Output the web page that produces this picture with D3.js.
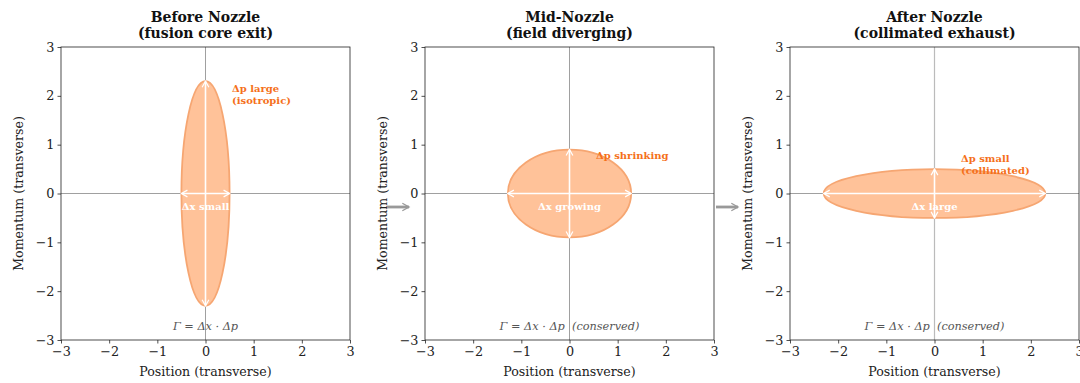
<!DOCTYPE html>
<html>
<head>
<meta charset="utf-8">
<script src="https://cdn.jsdelivr.net/npm/d3@7"></script>
<style>
  body { margin: 0; background: #fff; }
  svg { display: block; font-family: "DejaVu Serif", serif; }
  text { white-space: pre; }
</style>
</head>
<body>
<script>
// panel data
const titles = [["Before Nozzle", "(fusion core exit)"], ["Mid-Nozzle", "(field diverging)"], ["After Nozzle", "(collimated exhaust)"]];
const deltaX = [0.5, 1.28, 2.3];
const deltaP = [2.3, 0.9, 0.5];
const pLabels = [["Δp large", "(isotropic)"], ["Δp shrinking"], ["Δp small", "(collimated)"]];
const pLabelPos = [[0.55, 2.08], [0.55, 0.71], [0.55, 0.64]];
const xLabels = ["Δx small", "Δx growing", "Δx large"];
const gammaText = ["Γ = Δx · Δp", "Γ = Δx · Δp  (conserved)", "Γ = Δx · Δp  (conserved)"];
const ticks = [-3, -2, -1, 0, 1, 2, 3];

const W = 1080, H = 383;
const panelLeft = [61, 425, 790];
const pw = 289, panelTop = 47, ph = 293;

const svg = d3.select("body").append("svg").attr("width", W).attr("height", H);

const defs = svg.append("defs");
function marker(id, color, size) {
  defs.append("marker")
    .attr("id", id)
    .attr("viewBox", "-10 -6 12 12")
    .attr("refX", 0).attr("refY", 0)
    .attr("markerWidth", size).attr("markerHeight", size)
    .attr("markerUnits", "userSpaceOnUse")
    .attr("orient", "auto-start-reverse")
    .append("path")
    .attr("d", "M-8,-4.5 L0,0 L-8,4.5")
    .attr("fill", "none")
    .attr("stroke", color)
    .attr("stroke-width", 1.6);
}
marker("wh", "#fff", 9);
marker("gr", "#999", 10);

const fill = "#ffc299", edge = "#f6a672", orange = "#f5701a";

titles.forEach((t, i) => {
  const x = d3.scaleLinear().domain([-3, 3]).range([0, pw]);
  const y = d3.scaleLinear().domain([-3, 3]).range([ph, 0]);
  const g = svg.append("g").attr("transform", `translate(${panelLeft[i]},${panelTop})`);

  // zero lines
  g.append("line").attr("x1", 0).attr("x2", pw).attr("y1", y(0)).attr("y2", y(0))
    .attr("stroke", "#888").attr("stroke-width", 0.8);
  g.append("line").attr("x1", x(0)).attr("x2", x(0)).attr("y1", 0).attr("y2", ph)
    .attr("stroke", i == 2 ? "#bbb" : "#888").attr("stroke-width", i == 2 ? 1.2 : 0.8);

  // phase-space ellipse
  g.append("ellipse")
    .attr("cx", x(0)).attr("cy", y(0))
    .attr("rx", x(deltaX[i]) - x(0))
    .attr("ry", y(0) - y(deltaP[i]))
    .attr("fill", fill)
    .attr("stroke", edge)
    .attr("stroke-width", 1.8);

  // spread arrows
  g.append("line")
    .attr("x1", x(-deltaX[i])).attr("x2", x(deltaX[i]))
    .attr("y1", y(0)).attr("y2", y(0))
    .attr("stroke", "#fff").attr("stroke-width", 1.6)
    .attr("marker-start", "url(#wh)").attr("marker-end", "url(#wh)");
  g.append("line")
    .attr("x1", x(0)).attr("x2", x(0))
    .attr("y1", y(-deltaP[i])).attr("y2", y(deltaP[i]))
    .attr("stroke", "#fff").attr("stroke-width", 1.6)
    .attr("marker-start", "url(#wh)").attr("marker-end", "url(#wh)");

  // labels
  g.append("text")
    .attr("x", x(0)).attr("y", y(-0.33))
    .attr("text-anchor", "middle")
    .attr("fill", "#fff").attr("font-weight", "bold").attr("font-size", 10)
    .text(xLabels[i]);

  pLabels[i].forEach((s, k) => {
    g.append("text")
      .attr("x", x(pLabelPos[i][0])).attr("y", y(pLabelPos[i][1]) + k * 12)
      .attr("fill", orange).attr("font-weight", "bold").attr("font-size", 10)
      .text(s);
  });

  g.append("text")
    .attr("x", x(0)).attr("y", y(-2.8))
    .attr("text-anchor", "middle")
    .attr("fill", "#555").attr("font-style", "italic").attr("font-size", 11.3)
    .text(gammaText[i]);

  // axes
  const xa = g.append("g").attr("transform", `translate(0,${ph})`)
    .call(d3.axisBottom(x).tickValues(ticks).tickSize(3.5).tickPadding(3).tickFormat(d => d < 0 ? "−" + Math.abs(d) : d));
  const ya = g.append("g")
    .call(d3.axisLeft(y).tickValues(ticks).tickSize(3.5).tickPadding(3).tickFormat(d => d < 0 ? "−" + Math.abs(d) : d));
  [xa, ya].forEach(a => {
    a.selectAll("text").attr("font-family", "DejaVu Serif").attr("font-size", 12.8).attr("fill", "#222");
    a.selectAll("line").attr("stroke", "#222").attr("stroke-width", 0.8);
    a.select(".domain").remove();
  });
  g.append("rect").attr("width", pw).attr("height", ph)
    .attr("fill", "none").attr("stroke", "#222").attr("stroke-width", 0.8);

  g.append("text")
    .attr("x", pw / 2).attr("y", ph + 36)
    .attr("text-anchor", "middle").attr("font-size", 12.6).attr("fill", "#222")
    .text("Position (transverse)");
  g.append("text")
    .attr("transform", `translate(-38.5,${ph / 2}) rotate(-90)`)
    .attr("text-anchor", "middle").attr("font-size", 12.6).attr("fill", "#222")
    .text("Momentum (transverse)");

  t.forEach((s, k) => {
    g.append("text")
      .attr("x", pw / 2).attr("y", -25 + k * 16)
      .attr("text-anchor", "middle")
      .attr("font-weight", "bold").attr("font-size", 14).attr("fill", "#111")
      .text(s);
  });
});

// flow arrows between panels
const flowArrows = [[387, 409], [716, 738]];
flowArrows.forEach(a => {
  svg.append("line")
    .attr("x1", a[0]).attr("x2", a[1])
    .attr("y1", 207).attr("y2", 207)
    .attr("stroke", "#999").attr("stroke-width", 2.8)
    .attr("marker-end", "url(#gr)");
});
</script>
</body>
</html>
